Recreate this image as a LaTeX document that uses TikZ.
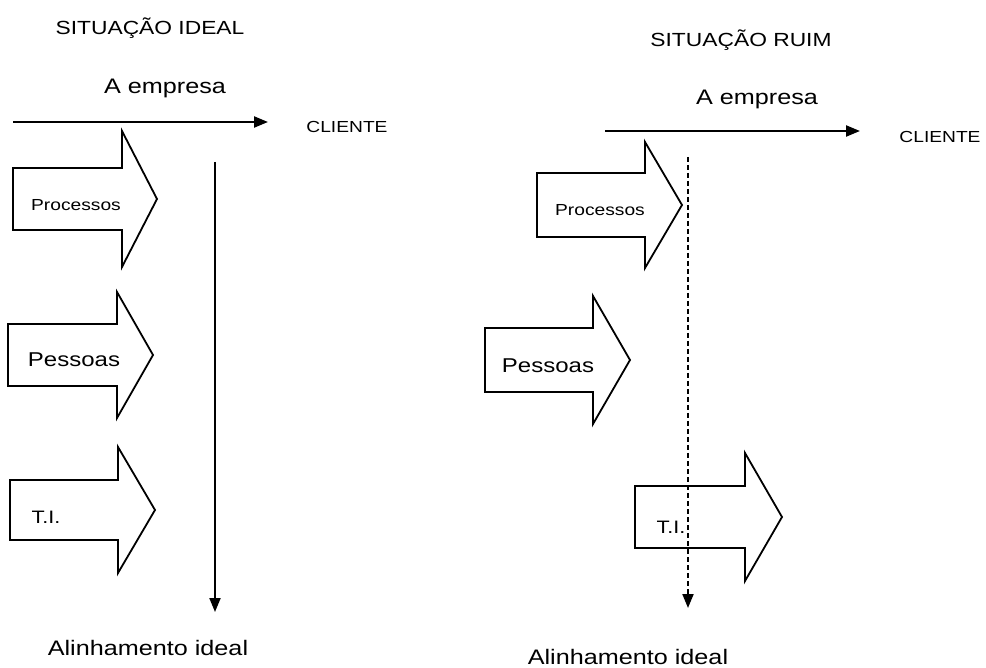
\documentclass[tikz,border=0pt]{standalone}
\usepackage{fontspec}
\setmainfont{Liberation Sans}
\usepackage{graphicx}
\usetikzlibrary{arrows.meta}

% Labels are set a little wider than the font's natural proportions
\newcommand\widetext[1]{\scalebox{1.2}[1]{#1}}

\tikzset{
  lbl/.style={inner sep=0pt, anchor=center, font=\fontsize{#1}{#1}\selectfont},
  flowline/.style={line width=2.2pt, -{Triangle[length=14pt,width=11pt]}},
  alignline/.style={line width=2pt, -{Triangle[length=14pt,width=11pt]}},
  alignlinebad/.style={alignline, dash pattern=on 5pt off 3pt},
  blockarrow/.style={draw, line width=1.8pt, fill=white, line join=miter},
}

% Block arrow: #1 body left, #2 head base x, #3 tip x, #4 centre y, #5 half body, #6 half head
\newcommand\blockarrow[6]{%
  \draw[blockarrow] (#1,{#4-#5}) -- (#2,{#4-#5}) -- (#2,{#4-#6}) -- (#3,#4)
    -- (#2,{#4+#6}) -- (#2,{#4+#5}) -- (#1,{#4+#5}) -- cycle;}

\begin{document}
\begin{tikzpicture}[x=1pt, y=-1pt]
\useasboundingbox (0,0) rectangle (986,668);

% ---------- ideal situation ----------
\node[lbl=19] (titleL) at (150,28) {\widetext{SITUAÇÃO IDEAL}};
\node[lbl=21] (firmL) at (165,88) {\widetext{A empresa}};
\node[lbl=16] (clientL) at (347,127) {\widetext{CLIENTE}};

\blockarrow{13}{122}{157}{199}{31}{68}
\blockarrow{8}{117}{153}{355}{31}{63}
\blockarrow{10}{118}{155}{510}{30}{63}

\node[lbl=16] (procL) at (76,205) {\widetext{Processos}};
\node[lbl=20] (peopL) at (74,360) {\widetext{Pessoas}};
\node[lbl=18] (itL) at (46,517) {\widetext{T.I.}};

\coordinate (hL0) at (13,122);
\coordinate (hL1) at (268,122);
\draw[flowline] (hL0) -- (hL1);

\coordinate (vL0) at (215,162);
\coordinate (vL1) at (215,612);
\draw[alignline] (vL0) -- (vL1);

\node[lbl=21] (alignL) at (148,648) {\widetext{Alinhamento ideal}};

% ---------- bad situation ----------
\node[lbl=19] (titleR) at (741,40) {\widetext{SITUAÇÃO RUIM}};
\node[lbl=21] (firmR) at (757,99) {\widetext{A empresa}};
\node[lbl=16] (clientR) at (940,137) {\widetext{CLIENTE}};

\blockarrow{537}{645}{682}{205}{32}{63}
\blockarrow{485}{593}{630}{360}{32}{64}
\blockarrow{635}{745}{782}{517}{31}{64}

\node[lbl=16] (procR) at (600,210) {\widetext{Processos}};
\node[lbl=20] (peopR) at (548,366) {\widetext{Pessoas}};
\node[lbl=18] (itR) at (671,527) {\widetext{T.I.}};

\coordinate (hR0) at (605,131);
\coordinate (hR1) at (860,131);
\draw[flowline] (hR0) -- (hR1);

\coordinate (vR0) at (688,157);
\coordinate (vR1) at (688,608);
\draw[alignlinebad] (vR0) -- (vR1);

\node[lbl=21] (alignR) at (628,657) {\widetext{Alinhamento ideal}};
\end{tikzpicture}
\end{document}
